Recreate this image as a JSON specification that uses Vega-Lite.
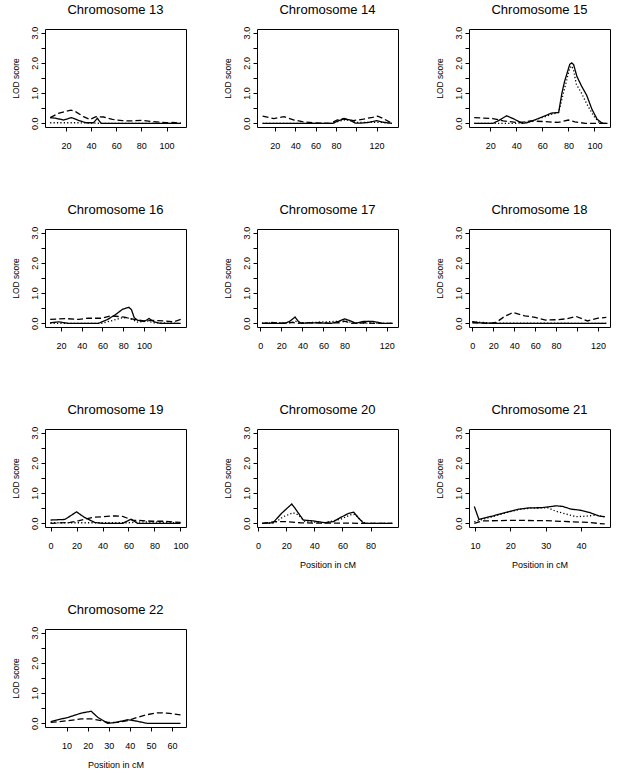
{
"$schema": "https://vega.github.io/schema/vega-lite/v6.json",
"background": "white",
"padding": {"left": 10, "top": 3, "right": 5, "bottom": 2},
"data": {"values": [
{"c":13,"s":"a","x":7.5,"y":0.19},{"c":13,"s":"a","x":12,"y":0.17},{"c":13,"s":"a","x":18,"y":0.11},{"c":13,"s":"a","x":24.5,"y":0.19},{"c":13,"s":"a","x":30,"y":0.1},{"c":13,"s":"a","x":36,"y":0.02},{"c":13,"s":"a","x":42,"y":0.02},{"c":13,"s":"a","x":45,"y":0.17},{"c":13,"s":"a","x":48,"y":0.0},{"c":13,"s":"a","x":70,"y":0.0},{"c":13,"s":"a","x":90,"y":0.0},{"c":13,"s":"a","x":111.5,"y":0.0},
{"c":13,"s":"b","x":7.5,"y":0.19},{"c":13,"s":"b","x":14,"y":0.33},{"c":13,"s":"b","x":20,"y":0.4},{"c":13,"s":"b","x":24,"y":0.44},{"c":13,"s":"b","x":28,"y":0.38},{"c":13,"s":"b","x":34,"y":0.22},{"c":13,"s":"b","x":39,"y":0.13},{"c":13,"s":"b","x":44,"y":0.22},{"c":13,"s":"b","x":50,"y":0.21},{"c":13,"s":"b","x":57,"y":0.13},{"c":13,"s":"b","x":65,"y":0.09},{"c":13,"s":"b","x":71,"y":0.08},{"c":13,"s":"b","x":81,"y":0.1},{"c":13,"s":"b","x":89,"y":0.06},{"c":13,"s":"b","x":95,"y":0.04},{"c":13,"s":"b","x":100,"y":0.02},{"c":13,"s":"b","x":105,"y":0.03},{"c":13,"s":"b","x":111.5,"y":0.01},
{"c":13,"s":"c","x":7.5,"y":0.02},{"c":13,"s":"c","x":20,"y":0.02},{"c":13,"s":"c","x":30,"y":0.02},{"c":13,"s":"c","x":40,"y":0.01},{"c":13,"s":"c","x":48,"y":0.0},{"c":13,"s":"c","x":111.5,"y":0.0},
{"c":14,"s":"a","x":8,"y":0.0},{"c":14,"s":"a","x":40,"y":0.0},{"c":14,"s":"a","x":77,"y":0.0},{"c":14,"s":"a","x":82,"y":0.08},{"c":14,"s":"a","x":87,"y":0.14},{"c":14,"s":"a","x":93,"y":0.12},{"c":14,"s":"a","x":99,"y":0.01},{"c":14,"s":"a","x":105,"y":0.01},{"c":14,"s":"a","x":112,"y":0.03},{"c":14,"s":"a","x":120,"y":0.09},{"c":14,"s":"a","x":126,"y":0.04},{"c":14,"s":"a","x":135,"y":0.0},
{"c":14,"s":"b","x":8,"y":0.24},{"c":14,"s":"b","x":19,"y":0.16},{"c":14,"s":"b","x":29,"y":0.22},{"c":14,"s":"b","x":39,"y":0.11},{"c":14,"s":"b","x":48,"y":0.05},{"c":14,"s":"b","x":58,"y":0.02},{"c":14,"s":"b","x":75,"y":0.0},{"c":14,"s":"b","x":81,"y":0.11},{"c":14,"s":"b","x":88,"y":0.16},{"c":14,"s":"b","x":97,"y":0.09},{"c":14,"s":"b","x":107,"y":0.14},{"c":14,"s":"b","x":116,"y":0.2},{"c":14,"s":"b","x":121,"y":0.24},{"c":14,"s":"b","x":127,"y":0.15},{"c":14,"s":"b","x":135,"y":0.0},
{"c":14,"s":"c","x":8,"y":0.0},{"c":14,"s":"c","x":76,"y":0.0},{"c":14,"s":"c","x":84,"y":0.08},{"c":14,"s":"c","x":90,"y":0.12},{"c":14,"s":"c","x":96,"y":0.07},{"c":14,"s":"c","x":100,"y":0.03},{"c":14,"s":"c","x":125,"y":0.03},{"c":14,"s":"c","x":135,"y":0.0},
{"c":15,"s":"a","x":7.7,"y":0.0},{"c":15,"s":"a","x":22,"y":0.0},{"c":15,"s":"a","x":26,"y":0.08},{"c":15,"s":"a","x":32.5,"y":0.25},{"c":15,"s":"a","x":38,"y":0.15},{"c":15,"s":"a","x":44.5,"y":0.0},{"c":15,"s":"a","x":48,"y":0.02},{"c":15,"s":"a","x":54,"y":0.11},{"c":15,"s":"a","x":61.5,"y":0.24},{"c":15,"s":"a","x":67,"y":0.34},{"c":15,"s":"a","x":72.5,"y":0.36},{"c":15,"s":"a","x":75,"y":1.0},{"c":15,"s":"a","x":77,"y":1.38},{"c":15,"s":"a","x":81,"y":1.95},{"c":15,"s":"a","x":82.5,"y":2.0},{"c":15,"s":"a","x":84,"y":1.94},{"c":15,"s":"a","x":86.5,"y":1.55},{"c":15,"s":"a","x":90,"y":1.24},{"c":15,"s":"a","x":94,"y":0.93},{"c":15,"s":"a","x":98,"y":0.47},{"c":15,"s":"a","x":102,"y":0.14},{"c":15,"s":"a","x":106,"y":0.0},{"c":15,"s":"a","x":110,"y":0.0},
{"c":15,"s":"b","x":7.7,"y":0.19},{"c":15,"s":"b","x":22,"y":0.16},{"c":15,"s":"b","x":30,"y":0.08},{"c":15,"s":"b","x":40,"y":0.03},{"c":15,"s":"b","x":46,"y":0.05},{"c":15,"s":"b","x":51,"y":0.08},{"c":15,"s":"b","x":61,"y":0.06},{"c":15,"s":"b","x":72,"y":0.03},{"c":15,"s":"b","x":80,"y":0.11},{"c":15,"s":"b","x":85,"y":0.05},{"c":15,"s":"b","x":93,"y":0.0},{"c":15,"s":"b","x":110,"y":0.0},
{"c":15,"s":"c","x":7.7,"y":0.0},{"c":15,"s":"c","x":40,"y":0.0},{"c":15,"s":"c","x":50,"y":0.05},{"c":15,"s":"c","x":56,"y":0.14},{"c":15,"s":"c","x":62,"y":0.22},{"c":15,"s":"c","x":67,"y":0.3},{"c":15,"s":"c","x":72.5,"y":0.36},{"c":15,"s":"c","x":75,"y":0.8},{"c":15,"s":"c","x":77,"y":1.15},{"c":15,"s":"c","x":81,"y":1.83},{"c":15,"s":"c","x":82.5,"y":1.9},{"c":15,"s":"c","x":84,"y":1.75},{"c":15,"s":"c","x":86,"y":1.3},{"c":15,"s":"c","x":90,"y":1.0},{"c":15,"s":"c","x":94,"y":0.65},{"c":15,"s":"c","x":99,"y":0.27},{"c":15,"s":"c","x":103,"y":0.05},{"c":15,"s":"c","x":108,"y":0.0},{"c":15,"s":"c","x":110,"y":0.0},
{"c":16,"s":"a","x":9.5,"y":0.02},{"c":16,"s":"a","x":17.8,"y":0.05},{"c":16,"s":"a","x":27,"y":0.0},{"c":16,"s":"a","x":56,"y":0.0},{"c":16,"s":"a","x":65,"y":0.13},{"c":16,"s":"a","x":73,"y":0.3},{"c":16,"s":"a","x":79.5,"y":0.47},{"c":16,"s":"a","x":85.5,"y":0.53},{"c":16,"s":"a","x":88,"y":0.45},{"c":16,"s":"a","x":90.6,"y":0.19},{"c":16,"s":"a","x":94,"y":0.1},{"c":16,"s":"a","x":100,"y":0.06},{"c":16,"s":"a","x":105,"y":0.16},{"c":16,"s":"a","x":110,"y":0.05},{"c":16,"s":"a","x":116,"y":0.0},{"c":16,"s":"a","x":135.5,"y":0.0},
{"c":16,"s":"b","x":9.5,"y":0.13},{"c":16,"s":"b","x":24,"y":0.16},{"c":16,"s":"b","x":37,"y":0.13},{"c":16,"s":"b","x":46,"y":0.17},{"c":16,"s":"b","x":59,"y":0.17},{"c":16,"s":"b","x":68,"y":0.25},{"c":16,"s":"b","x":81,"y":0.21},{"c":16,"s":"b","x":90.6,"y":0.13},{"c":16,"s":"b","x":100,"y":0.08},{"c":16,"s":"b","x":110,"y":0.1},{"c":16,"s":"b","x":119,"y":0.08},{"c":16,"s":"b","x":128.5,"y":0.05},{"c":16,"s":"b","x":135.5,"y":0.13},
{"c":16,"s":"c","x":9.5,"y":0.0},{"c":16,"s":"c","x":59,"y":0.0},{"c":16,"s":"c","x":68,"y":0.08},{"c":16,"s":"c","x":79.5,"y":0.19},{"c":16,"s":"c","x":86,"y":0.17},{"c":16,"s":"c","x":94,"y":0.04},{"c":16,"s":"c","x":103,"y":0.08},{"c":16,"s":"c","x":110,"y":0.02},{"c":16,"s":"c","x":135.5,"y":0.0},
{"c":17,"s":"a","x":1.6,"y":0.0},{"c":17,"s":"a","x":23.5,"y":0.0},{"c":17,"s":"a","x":28,"y":0.07},{"c":17,"s":"a","x":33,"y":0.21},{"c":17,"s":"a","x":36,"y":0.07},{"c":17,"s":"a","x":39,"y":0.0},{"c":17,"s":"a","x":48.6,"y":0.02},{"c":17,"s":"a","x":67,"y":0.0},{"c":17,"s":"a","x":74,"y":0.06},{"c":17,"s":"a","x":80,"y":0.15},{"c":17,"s":"a","x":85,"y":0.09},{"c":17,"s":"a","x":91,"y":0.0},{"c":17,"s":"a","x":97,"y":0.06},{"c":17,"s":"a","x":103,"y":0.07},{"c":17,"s":"a","x":108,"y":0.06},{"c":17,"s":"a","x":116,"y":0.0},{"c":17,"s":"a","x":125.5,"y":0.0},
{"c":17,"s":"b","x":1.6,"y":0.0},{"c":17,"s":"b","x":11,"y":0.03},{"c":17,"s":"b","x":20,"y":0.01},{"c":17,"s":"b","x":30,"y":0.03},{"c":17,"s":"b","x":36,"y":0.0},{"c":17,"s":"b","x":42,"y":0.03},{"c":17,"s":"b","x":50,"y":0.01},{"c":17,"s":"b","x":56,"y":0.03},{"c":17,"s":"b","x":65,"y":0.01},{"c":17,"s":"b","x":75,"y":0.02},{"c":17,"s":"b","x":80,"y":0.07},{"c":17,"s":"b","x":86,"y":0.0},{"c":17,"s":"b","x":100,"y":0.02},{"c":17,"s":"b","x":108,"y":0.0},{"c":17,"s":"b","x":125.5,"y":0.0},
{"c":17,"s":"c","x":1.6,"y":0.01},{"c":17,"s":"c","x":30,"y":0.02},{"c":17,"s":"c","x":33,"y":0.08},{"c":17,"s":"c","x":38,"y":0.01},{"c":17,"s":"c","x":80,"y":0.08},{"c":17,"s":"c","x":90,"y":0.01},{"c":17,"s":"c","x":125.5,"y":0.0},
{"c":18,"s":"a","x":0,"y":0.06},{"c":18,"s":"a","x":6.5,"y":0.02},{"c":18,"s":"a","x":18,"y":0.0},{"c":18,"s":"a","x":70,"y":0.0},{"c":18,"s":"a","x":128,"y":0.0},
{"c":18,"s":"b","x":0,"y":0.02},{"c":18,"s":"b","x":14.6,"y":0.0},{"c":18,"s":"b","x":22.7,"y":0.03},{"c":18,"s":"b","x":30.8,"y":0.23},{"c":18,"s":"b","x":39,"y":0.36},{"c":18,"s":"b","x":45,"y":0.3},{"c":18,"s":"b","x":50,"y":0.25},{"c":18,"s":"b","x":60,"y":0.2},{"c":18,"s":"b","x":70,"y":0.11},{"c":18,"s":"b","x":80,"y":0.12},{"c":18,"s":"b","x":90,"y":0.15},{"c":18,"s":"b","x":99,"y":0.23},{"c":18,"s":"b","x":110,"y":0.08},{"c":18,"s":"b","x":120,"y":0.17},{"c":18,"s":"b","x":128,"y":0.2},
{"c":18,"s":"c","x":0,"y":0.05},{"c":18,"s":"c","x":10,"y":0.03},{"c":18,"s":"c","x":20,"y":0.01},{"c":18,"s":"c","x":128,"y":0.0},
{"c":19,"s":"a","x":0,"y":0.11},{"c":19,"s":"a","x":11,"y":0.13},{"c":19,"s":"a","x":20,"y":0.38},{"c":19,"s":"a","x":26,"y":0.2},{"c":19,"s":"a","x":34,"y":0.03},{"c":19,"s":"a","x":40,"y":0.0},{"c":19,"s":"a","x":55.5,"y":0.0},{"c":19,"s":"a","x":62,"y":0.14},{"c":19,"s":"a","x":67,"y":0.0},{"c":19,"s":"a","x":100,"y":0.0},
{"c":19,"s":"b","x":0,"y":0.0},{"c":19,"s":"b","x":15,"y":0.03},{"c":19,"s":"b","x":22,"y":0.09},{"c":19,"s":"b","x":32.6,"y":0.2},{"c":19,"s":"b","x":40,"y":0.22},{"c":19,"s":"b","x":50,"y":0.25},{"c":19,"s":"b","x":55.5,"y":0.23},{"c":19,"s":"b","x":63,"y":0.11},{"c":19,"s":"b","x":70.7,"y":0.09},{"c":19,"s":"b","x":78,"y":0.07},{"c":19,"s":"b","x":88.5,"y":0.07},{"c":19,"s":"b","x":100,"y":0.03},
{"c":19,"s":"c","x":0,"y":0.02},{"c":19,"s":"c","x":30,"y":0.02},{"c":19,"s":"c","x":60,"y":0.02},{"c":19,"s":"c","x":70,"y":0.05},{"c":19,"s":"c","x":100,"y":0.02},
{"c":20,"s":"a","x":3,"y":0.0},{"c":20,"s":"a","x":10.7,"y":0.02},{"c":20,"s":"a","x":16.7,"y":0.33},{"c":20,"s":"a","x":24,"y":0.64},{"c":20,"s":"a","x":26.3,"y":0.5},{"c":20,"s":"a","x":32.2,"y":0.11},{"c":20,"s":"a","x":39.4,"y":0.08},{"c":20,"s":"a","x":47.7,"y":0.02},{"c":20,"s":"a","x":53.7,"y":0.06},{"c":20,"s":"a","x":58.5,"y":0.19},{"c":20,"s":"a","x":64.4,"y":0.33},{"c":20,"s":"a","x":68,"y":0.37},{"c":20,"s":"a","x":71.6,"y":0.17},{"c":20,"s":"a","x":75.2,"y":0.0},{"c":20,"s":"a","x":95.5,"y":0.0},
{"c":20,"s":"b","x":3,"y":0.0},{"c":20,"s":"b","x":12,"y":0.06},{"c":20,"s":"b","x":20,"y":0.06},{"c":20,"s":"b","x":30,"y":0.02},{"c":20,"s":"b","x":40,"y":0.01},{"c":20,"s":"b","x":60,"y":0.01},{"c":20,"s":"b","x":75,"y":0.0},{"c":20,"s":"b","x":95.5,"y":0.0},
{"c":20,"s":"c","x":3,"y":0.0},{"c":20,"s":"c","x":12,"y":0.02},{"c":20,"s":"c","x":18,"y":0.22},{"c":20,"s":"c","x":25,"y":0.35},{"c":20,"s":"c","x":28.6,"y":0.28},{"c":20,"s":"c","x":33.4,"y":0.06},{"c":20,"s":"c","x":46.5,"y":0.02},{"c":20,"s":"c","x":58.5,"y":0.13},{"c":20,"s":"c","x":65.6,"y":0.28},{"c":20,"s":"c","x":69,"y":0.3},{"c":20,"s":"c","x":72.8,"y":0.11},{"c":20,"s":"c","x":76.4,"y":0.0},{"c":20,"s":"c","x":95.5,"y":0.0},
{"c":21,"s":"a","x":9.8,"y":0.56},{"c":21,"s":"a","x":11.1,"y":0.13},{"c":21,"s":"a","x":14.9,"y":0.24},{"c":21,"s":"a","x":18.7,"y":0.36},{"c":21,"s":"a","x":22.5,"y":0.47},{"c":21,"s":"a","x":25.3,"y":0.51},{"c":21,"s":"a","x":29.1,"y":0.52},{"c":21,"s":"a","x":32.9,"y":0.58},{"c":21,"s":"a","x":34.8,"y":0.56},{"c":21,"s":"a","x":37.2,"y":0.47},{"c":21,"s":"a","x":39.5,"y":0.44},{"c":21,"s":"a","x":42.4,"y":0.36},{"c":21,"s":"a","x":45.2,"y":0.24},{"c":21,"s":"a","x":46.7,"y":0.22},
{"c":21,"s":"b","x":9.8,"y":0.0},{"c":21,"s":"b","x":12,"y":0.08},{"c":21,"s":"b","x":20,"y":0.1},{"c":21,"s":"b","x":30,"y":0.09},{"c":21,"s":"b","x":37.6,"y":0.05},{"c":21,"s":"b","x":42,"y":0.03},{"c":21,"s":"b","x":46.7,"y":-0.02},
{"c":21,"s":"c","x":9.8,"y":0.05},{"c":21,"s":"c","x":11.1,"y":0.1},{"c":21,"s":"c","x":14.9,"y":0.22},{"c":21,"s":"c","x":18.7,"y":0.35},{"c":21,"s":"c","x":22.5,"y":0.46},{"c":21,"s":"c","x":25.3,"y":0.5},{"c":21,"s":"c","x":29.1,"y":0.51},{"c":21,"s":"c","x":30.5,"y":0.52},{"c":21,"s":"c","x":32.9,"y":0.4},{"c":21,"s":"c","x":35.7,"y":0.31},{"c":21,"s":"c","x":38.6,"y":0.22},{"c":21,"s":"c","x":41.4,"y":0.24},{"c":21,"s":"c","x":44.2,"y":0.27},{"c":21,"s":"c","x":46.7,"y":0.22},
{"c":22,"s":"a","x":2.5,"y":0.06},{"c":22,"s":"a","x":10.8,"y":0.2},{"c":22,"s":"a","x":17,"y":0.34},{"c":22,"s":"a","x":21.7,"y":0.4},{"c":22,"s":"a","x":24.8,"y":0.2},{"c":22,"s":"a","x":29.5,"y":0.0},{"c":22,"s":"a","x":33.4,"y":0.03},{"c":22,"s":"a","x":38.9,"y":0.12},{"c":22,"s":"a","x":42,"y":0.09},{"c":22,"s":"a","x":48.3,"y":0.0},{"c":22,"s":"a","x":64,"y":0.0},
{"c":22,"s":"b","x":2.5,"y":0.03},{"c":22,"s":"b","x":10.8,"y":0.09},{"c":22,"s":"b","x":17,"y":0.15},{"c":22,"s":"b","x":21.7,"y":0.15},{"c":22,"s":"b","x":26.4,"y":0.09},{"c":22,"s":"b","x":29.5,"y":0.03},{"c":22,"s":"b","x":34,"y":0.03},{"c":22,"s":"b","x":38.9,"y":0.09},{"c":22,"s":"b","x":43.6,"y":0.2},{"c":22,"s":"b","x":48.3,"y":0.29},{"c":22,"s":"b","x":53,"y":0.35},{"c":22,"s":"b","x":57.6,"y":0.34},{"c":22,"s":"b","x":64,"y":0.28}
]},
"columns": 3,
"bounds": "flush",
"spacing": {"row": 102, "column": 71},
"concat": [
{"title": "Chromosome 13", "width": 141, "height": 98, "transform": [{"filter": "datum.c == 13"}], "mark": {"type": "line", "color": "black", "strokeWidth": 1.3},
 "encoding": {"x": {"field": "x", "type": "quantitative", "scale": {"domain": [3.4, 115.5], "nice": false, "zero": false}, "axis": {"values": [20,40,60,80,100], "title": null}},
  "y": {"field": "y", "type": "quantitative", "scale": {"domain": [-0.12, 3.12], "nice": false, "zero": false}, "axis": {"values": [0,0.5,1,1.5,2,2.5,3], "labelExpr": "datum.value % 1 == 0 ? format(datum.value, '.1f') : ''", "title": "LOD score"}},
  "strokeDash": {"field": "s", "type": "nominal", "scale": {"domain": ["a","b","c"], "range": [[1,0],[6,3],[1.2,2.2]]}, "legend": null}}},
{"title": "Chromosome 14", "width": 141, "height": 98, "transform": [{"filter": "datum.c == 14"}], "mark": {"type": "line", "color": "black", "strokeWidth": 1.3},
 "encoding": {"x": {"field": "x", "type": "quantitative", "scale": {"domain": [2.5, 141], "nice": false, "zero": false}, "axis": {"values": [20,40,60,80,100,120], "labelExpr": "datum.value == 100 ? '' : datum.label", "title": null}},
  "y": {"field": "y", "type": "quantitative", "scale": {"domain": [-0.12, 3.12], "nice": false, "zero": false}, "axis": {"values": [0,0.5,1,1.5,2,2.5,3], "labelExpr": "datum.value % 1 == 0 ? format(datum.value, '.1f') : ''", "title": "LOD score"}},
  "strokeDash": {"field": "s", "type": "nominal", "scale": {"domain": ["a","b","c"], "range": [[1,0],[6,3],[1.2,2.2]]}, "legend": null}}},
{"title": "Chromosome 15", "width": 141, "height": 98, "transform": [{"filter": "datum.c == 15"}], "mark": {"type": "line", "color": "black", "strokeWidth": 1.3},
 "encoding": {"x": {"field": "x", "type": "quantitative", "scale": {"domain": [3.7, 111.9], "nice": false, "zero": false}, "axis": {"values": [20,40,60,80,100], "title": null}},
  "y": {"field": "y", "type": "quantitative", "scale": {"domain": [-0.12, 3.12], "nice": false, "zero": false}, "axis": {"values": [0,0.5,1,1.5,2,2.5,3], "labelExpr": "datum.value % 1 == 0 ? format(datum.value, '.1f') : ''", "title": "LOD score"}},
  "strokeDash": {"field": "s", "type": "nominal", "scale": {"domain": ["a","b","c"], "range": [[1,0],[6,3],[1.2,2.2]]}, "legend": null}}},
{"title": "Chromosome 16", "width": 141, "height": 98, "transform": [{"filter": "datum.c == 16"}], "mark": {"type": "line", "color": "black", "strokeWidth": 1.3},
 "encoding": {"x": {"field": "x", "type": "quantitative", "scale": {"domain": [4.5, 140.6], "nice": false, "zero": false}, "axis": {"values": [20,40,60,80,100,120], "labelExpr": "datum.value == 120 ? '' : datum.label", "title": null}},
  "y": {"field": "y", "type": "quantitative", "scale": {"domain": [-0.12, 3.12], "nice": false, "zero": false}, "axis": {"values": [0,0.5,1,1.5,2,2.5,3], "labelExpr": "datum.value % 1 == 0 ? format(datum.value, '.1f') : ''", "title": "LOD score"}},
  "strokeDash": {"field": "s", "type": "nominal", "scale": {"domain": ["a","b","c"], "range": [[1,0],[6,3],[1.2,2.2]]}, "legend": null}}},
{"title": "Chromosome 17", "width": 141, "height": 98, "transform": [{"filter": "datum.c == 17"}], "mark": {"type": "line", "color": "black", "strokeWidth": 1.3},
 "encoding": {"x": {"field": "x", "type": "quantitative", "scale": {"domain": [-3.1, 130.7], "nice": false, "zero": false}, "axis": {"values": [0,20,40,60,80,100,120], "labelExpr": "datum.value == 100 ? '' : datum.label", "title": null}},
  "y": {"field": "y", "type": "quantitative", "scale": {"domain": [-0.12, 3.12], "nice": false, "zero": false}, "axis": {"values": [0,0.5,1,1.5,2,2.5,3], "labelExpr": "datum.value % 1 == 0 ? format(datum.value, '.1f') : ''", "title": "LOD score"}},
  "strokeDash": {"field": "s", "type": "nominal", "scale": {"domain": ["a","b","c"], "range": [[1,0],[6,3],[1.2,2.2]]}, "legend": null}}},
{"title": "Chromosome 18", "width": 141, "height": 98, "transform": [{"filter": "datum.c == 18"}], "mark": {"type": "line", "color": "black", "strokeWidth": 1.3},
 "encoding": {"x": {"field": "x", "type": "quantitative", "scale": {"domain": [-3.2, 131.5], "nice": false, "zero": false}, "axis": {"values": [0,20,40,60,80,100,120], "labelExpr": "datum.value == 100 ? '' : datum.label", "title": null}},
  "y": {"field": "y", "type": "quantitative", "scale": {"domain": [-0.12, 3.12], "nice": false, "zero": false}, "axis": {"values": [0,0.5,1,1.5,2,2.5,3], "labelExpr": "datum.value % 1 == 0 ? format(datum.value, '.1f') : ''", "title": "LOD score"}},
  "strokeDash": {"field": "s", "type": "nominal", "scale": {"domain": ["a","b","c"], "range": [[1,0],[6,3],[1.2,2.2]]}, "legend": null}}},
{"title": "Chromosome 19", "width": 141, "height": 98, "transform": [{"filter": "datum.c == 19"}], "mark": {"type": "line", "color": "black", "strokeWidth": 1.3},
 "encoding": {"x": {"field": "x", "type": "quantitative", "scale": {"domain": [-4.3, 104.3], "nice": false, "zero": false}, "axis": {"values": [0,20,40,60,80,100], "title": null}},
  "y": {"field": "y", "type": "quantitative", "scale": {"domain": [-0.12, 3.12], "nice": false, "zero": false}, "axis": {"values": [0,0.5,1,1.5,2,2.5,3], "labelExpr": "datum.value % 1 == 0 ? format(datum.value, '.1f') : ''", "title": "LOD score"}},
  "strokeDash": {"field": "s", "type": "nominal", "scale": {"domain": ["a","b","c"], "range": [[1,0],[6,3],[1.2,2.2]]}, "legend": null}}},
{"title": "Chromosome 20", "width": 141, "height": 98, "transform": [{"filter": "datum.c == 20"}], "mark": {"type": "line", "color": "black", "strokeWidth": 1.3},
 "encoding": {"x": {"field": "x", "type": "quantitative", "scale": {"domain": [-0.7, 99.5], "nice": false, "zero": false}, "axis": {"values": [0,20,40,60,80], "title": "Position in cM"}},
  "y": {"field": "y", "type": "quantitative", "scale": {"domain": [-0.12, 3.12], "nice": false, "zero": false}, "axis": {"values": [0,0.5,1,1.5,2,2.5,3], "labelExpr": "datum.value % 1 == 0 ? format(datum.value, '.1f') : ''", "title": "LOD score"}},
  "strokeDash": {"field": "s", "type": "nominal", "scale": {"domain": ["a","b","c"], "range": [[1,0],[6,3],[1.2,2.2]]}, "legend": null}}},
{"title": "Chromosome 21", "width": 141, "height": 98, "transform": [{"filter": "datum.c == 21"}], "mark": {"type": "line", "color": "black", "strokeWidth": 1.3},
 "encoding": {"x": {"field": "x", "type": "quantitative", "scale": {"domain": [8.3, 48.2], "nice": false, "zero": false}, "axis": {"values": [10,20,30,40], "title": "Position in cM"}},
  "y": {"field": "y", "type": "quantitative", "scale": {"domain": [-0.12, 3.12], "nice": false, "zero": false}, "axis": {"values": [0,0.5,1,1.5,2,2.5,3], "labelExpr": "datum.value % 1 == 0 ? format(datum.value, '.1f') : ''", "title": "LOD score"}},
  "strokeDash": {"field": "s", "type": "nominal", "scale": {"domain": ["a","b","c"], "range": [[1,0],[6,3],[1.2,2.2]]}, "legend": null}}},
{"title": "Chromosome 22", "width": 141, "height": 98, "transform": [{"filter": "datum.c == 22"}], "mark": {"type": "line", "color": "black", "strokeWidth": 1.3},
 "encoding": {"x": {"field": "x", "type": "quantitative", "scale": {"domain": [-0.2, 66.6], "nice": false, "zero": false}, "axis": {"values": [10,20,30,40,50,60], "title": "Position in cM"}},
  "y": {"field": "y", "type": "quantitative", "scale": {"domain": [-0.12, 3.12], "nice": false, "zero": false}, "axis": {"values": [0,0.5,1,1.5,2,2.5,3], "labelExpr": "datum.value % 1 == 0 ? format(datum.value, '.1f') : ''", "title": "LOD score"}},
  "strokeDash": {"field": "s", "type": "nominal", "scale": {"domain": ["a","b","c"], "range": [[1,0],[6,3],[1.2,2.2]]}, "legend": null}}}
],
"config": {
  "view": {"stroke": "black", "strokeWidth": 1},
  "font": "Liberation Sans",
  "title": {"fontSize": 13, "fontWeight": "normal", "font": "Liberation Sans", "color": "black", "anchor": "middle", "frame": "group", "baseline": "alphabetic", "offset": 9},
  "axis": {"grid": false, "domain": false, "tickColor": "black", "tickSize": 4, "labelColor": "black", "labelFontSize": 9, "labelFont": "Liberation Sans", "titleFont": "Liberation Sans", "titleFontWeight": "normal", "titleColor": "black"},
  "axisX": {"labelPadding": 10, "titleFontSize": 9, "titlePadding": 10, "labelFlush": false, "labelOverlap": false},
  "axisY": {"labelAngle": -90, "labelAlign": "center", "labelBaseline": "alphabetic", "labelPadding": 4, "titleFontSize": 8.5, "titlePadding": 10, "labelFlush": false, "labelOverlap": false}
}
}
